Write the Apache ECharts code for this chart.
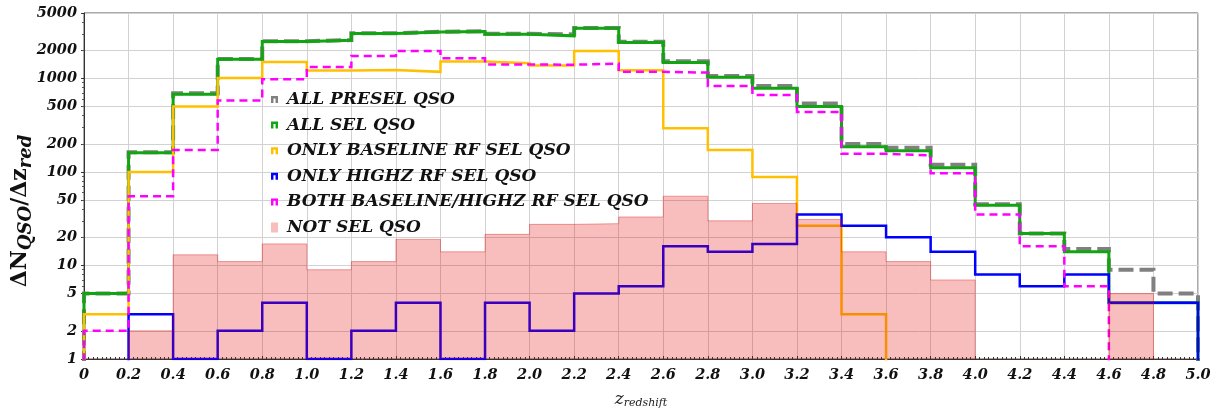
<!DOCTYPE html>
<html>
<head>
<meta charset="utf-8">
<script src="https://cdn.jsdelivr.net/npm/echarts@6/dist/echarts.min.js"></script>
<style>
html,body{margin:0;padding:0;background:#fff;}
#chart{width:1224px;height:409px;}
</style>
</head>
<body>
<div id="chart"></div>
<script>
// Bin edges (z_redshift), 25 bins of width 0.2
const binEdges = [0,0.2,0.4,0.6,0.8,1.0,1.2,1.4,1.6,1.8,2.0,2.2,2.4,2.6,2.8,3.0,3.2,3.4,3.6,3.8,4.0,4.2,4.4,4.6,4.8,5.0];

const allPresel   = [5,162,695,1610,2500,2570,3030,3150,3190,3000,2950,3460,2470,1520,1060,830,540,199,181,119,45,22,15,9,5];
const allSel      = [5,160,678,1600,2475,2555,3010,3140,3170,2965,2850,3440,2415,1475,1030,785,499,186,168,111,44,22,14,4,4];
const onlyBase    = [3,100,500,1010,1500,1213,1231,1174,1515,1452,1371,1968,1222,293,172,88,26.5,3,0,0,0,0,0,0,0];
const onlyHighz   = [0,3,1,2,4,1,2,4,1,4,2,5,6,16,14,17,35,26.5,20,14,8,6,8,4,4];
const bothSel     = [2,55,172,579,976,1327,1739,1968,1644,1410,1400,1438,1174,1154,831,666,438,156,150,97,35,16,6,0,0];
const notSel      = [0,2,13,11,17,9,11,19,14,21.5,27.5,28,33,55,30,46,31,14,11,7,0,0,0,5,0];

const xTickLabels = ['0','0.2','0.4','0.6','0.8','1.0','1.2','1.4','1.6','1.8','2.0','2.2','2.4','2.6','2.8','3.0','3.2','3.4','3.6','3.8','4.0','4.2','4.4','4.6','4.8','5.0'];
const yTickValues = [1,2,5,10,20,50,100,200,500,1000,2000,5000];
const seriesNames = ['ALL PRESEL QSO','ALL SEL QSO','ONLY BASELINE RF SEL QSO','ONLY HIGHZ RF SEL QSO','BOTH BASELINE/HIGHZ RF SEL QSO','NOT SEL QSO'];

const FLOOR = 0.5; // below axis min: zero bins fall outside and are clipped
function stepData(vals){
  const pts = [[binEdges[0], FLOOR]];
  for (let i = 0; i < vals.length; i++) pts.push([binEdges[i], vals[i] > 0 ? vals[i] : FLOOR]);
  const last = vals[vals.length-1];
  pts.push([binEdges[binEdges.length-1], last > 0 ? last : FLOOR]);
  pts.push([binEdges[binEdges.length-1], FLOOR]);
  return pts;
}

const serif = '"DejaVu Serif", "Liberation Serif", serif';
function lineSeries(name, vals, color, width, dash, z){
  return {
    name, type:'line', step:'end', symbol:'none', clip:true, z,
    data: stepData(vals),
    itemStyle:{color},
    lineStyle:{color, width, type: dash || 'solid', cap:'butt', join:'miter'},
    emphasis:{disabled:true}, silent:true, animation:false
  };
}
const iconU = 'path://M0,10 L0,0 L10,0 L10,10 L6.5,10 L6.5,3.5 L3.5,3.5 L3.5,10 Z';
const pinkFill = 'rgba(228,0,0,0.26)';

const chart = echarts.init(document.getElementById('chart'), null, {renderer:'canvas'});
chart.setOption({
  animation:false,
  backgroundColor:'#ffffff',
  grid:{left:84, right:26, top:13, bottom:50, containLabel:false, outerBoundsMode:'none',
        show:true, borderColor:'#555', borderWidth:1, backgroundColor:'transparent'},
  graphic:[{
    type:'text', x:20, y:211, rotation:Math.PI/2, silent:true,
    style:{
      text:'{a|ΔN}{s|QSO}{a|/Δz}{s|red}', align:'center', verticalAlign:'middle',
      rich:{
        a:{fontFamily:serif, fontWeight:'bold', fontSize:22, fill:'#111'},
        s:{fontFamily:serif, fontStyle:'italic', fontWeight:'bold', fontSize:18, fill:'#111', padding:[12,0,0,0]}
      }
    }
  }],
  legend:{
    orient:'vertical', left:266, top:86, itemWidth:7, itemHeight:10, itemGap:8.6,
    textStyle:{fontFamily:serif, fontStyle:'italic', fontWeight:'bold', fontSize:17, color:'#111', padding:[0,0,0,4]},
    selectedMode:false,
    data:[
      {name:seriesNames[0], icon:iconU, itemStyle:{color:'#808080'}},
      {name:seriesNames[1], icon:iconU, itemStyle:{color:'#12a512'}},
      {name:seriesNames[2], icon:iconU, itemStyle:{color:'#ffc000'}},
      {name:seriesNames[3], icon:iconU, itemStyle:{color:'#0000ff'}},
      {name:seriesNames[4], icon:iconU, itemStyle:{color:'#ff00ff'}},
      {name:seriesNames[5], icon:'rect', itemStyle:{color:pinkFill}}
    ]
  },
  xAxis:{
    type:'value', min:0, max:5, interval:0.2,
    name:'{z|z}{s|redshift}', nameLocation:'middle', nameGap:31,
    nameTextStyle:{rich:{
      z:{fontFamily:serif, fontStyle:'italic', fontSize:17, color:'#222'},
      s:{fontFamily:serif, fontStyle:'italic', fontSize:11, color:'#222', padding:[8,0,0,0]}
    }},
    axisLine:{show:true, lineStyle:{color:'#333', width:1}},
    axisTick:{show:true, inside:true, length:3, lineStyle:{color:'#333'}},
    minorTick:{show:true, splitNumber:10, length:2, lineStyle:{color:'#333'}},
    axisLabel:{margin:9, fontFamily:serif, fontStyle:'italic', fontWeight:'bold', fontSize:14.5, color:'#111',
      formatter:(v)=>{ const i = Math.round(v/0.2); return xTickLabels[i] !== undefined ? xTickLabels[i] : ''; }},
    splitLine:{show:true, lineStyle:{color:'#d2d2d2', width:1}}
  },
  yAxis:{
    type:'log', logBase:10, min:1, max:5000,
    axisLine:{show:true, lineStyle:{color:'#333', width:1}},
    axisTick:{show:true, length:3, customValues:yTickValues, lineStyle:{color:'#333'}},
    minorTick:{show:true, splitNumber:9, length:2, lineStyle:{color:'#555'}},
    axisLabel:{margin:7, customValues:yTickValues, fontFamily:serif, fontStyle:'italic', fontWeight:'bold', fontSize:14.5, color:'#111',
      formatter:(v)=>String(Math.round(v))},
    splitLine:{show:true, lineStyle:{color:'#d2d2d2', width:1}}
  },
  series:[
    lineSeries(seriesNames[0], allPresel, '#808080', 4, [15,6], 2),
    lineSeries(seriesNames[1], allSel, '#12a512', 3, null, 3),
    lineSeries(seriesNames[2], onlyBase, '#ffc000', 2.5, null, 4),
    lineSeries(seriesNames[3], onlyHighz, '#0000ff', 2.5, null, 5),
    lineSeries(seriesNames[4], bothSel, '#ff00ff', 2.5, [8,5], 6),
    {
      name:seriesNames[5], type:'line', step:'end', symbol:'none', clip:true, z:7,
      data: stepData(notSel),
      itemStyle:{color:pinkFill},
      lineStyle:{color:'rgba(215,0,0,0.35)', width:1},
      areaStyle:{color:pinkFill, opacity:1, origin:'start'},
      emphasis:{disabled:true}, silent:true
    }
  ]
});
</script>
</body>
</html>
